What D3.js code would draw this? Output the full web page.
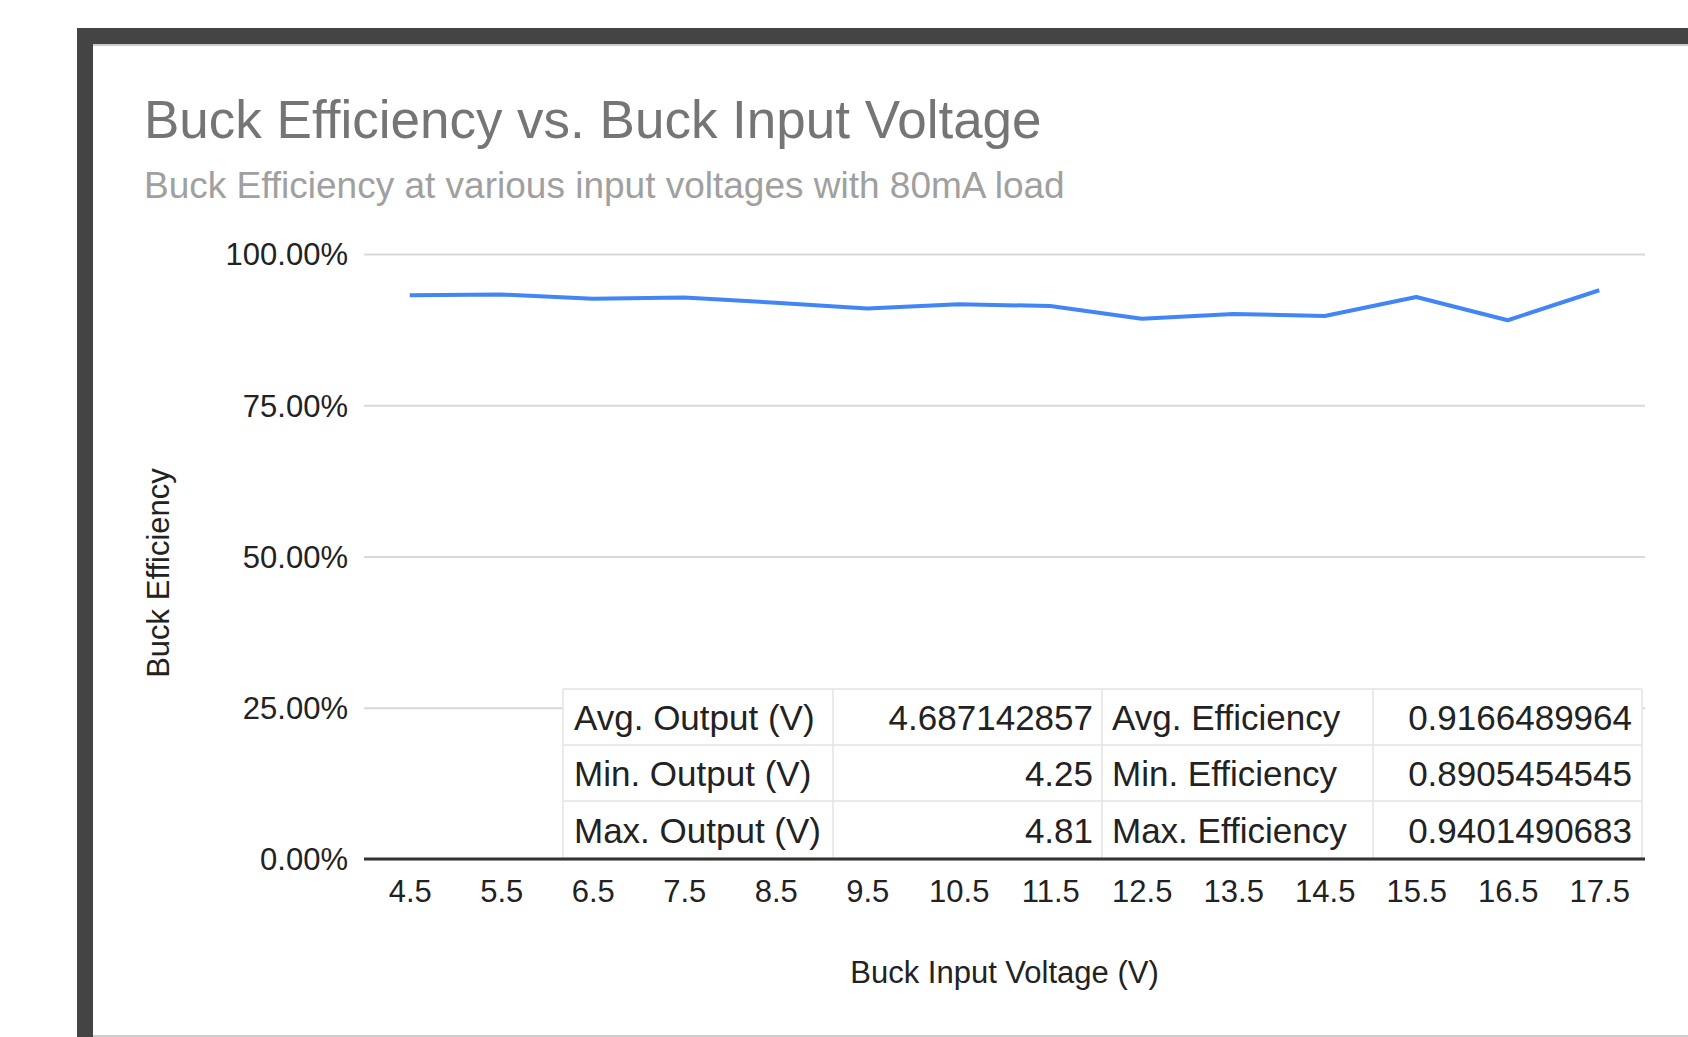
<!DOCTYPE html>
<html>
<head>
<meta charset="utf-8">
<script src="https://cdn.jsdelivr.net/npm/d3@7"></script>
<style>
  body { margin: 0; background: #fff; }
  svg { display: block; font-family: 'Liberation Sans', Arial, sans-serif; }
</style>
</head>
<body>
<div id="chart"></div>
<script>
// data
const voltages = ['4.5', '5.5', '6.5', '7.5', '8.5', '9.5', '10.5', '11.5', '12.5', '13.5', '14.5', '15.5', '16.5', '17.5'];
const efficiency = [0.932, 0.933, 0.926, 0.928, 0.9195, 0.910, 0.917, 0.914, 0.893, 0.901, 0.8975, 0.929, 0.8905, 0.9401];
const yTicks = [0, 0.25, 0.5, 0.75, 1];

// summary table
const outputLabels = ['Avg. Output (V)', 'Min. Output (V)', 'Max. Output (V)'];
const outputValues = ['4.687142857', '4.25', '4.81'];
const effLabels = ['Avg. Efficiency', 'Min. Efficiency', 'Max. Efficiency'];
const effValues = ['0.9166489964', '0.8905454545', '0.9401490683'];

const W = 1688;
const H = 1037;
const plot = { left: 364, right: 1645, top: 254, bottom: 859 };

const svg = d3.select('#chart').append('svg').attr('width', W).attr('height', H);

// dark frame around the chart panel
svg.append('rect').attr('x', 77).attr('y', 28).attr('width', W - 77).attr('height', H - 28).attr('fill', '#444');
svg.append('rect').attr('x', 93).attr('y', 44).attr('width', W - 93).attr('height', 991).attr('fill', '#fff');
svg.append('line').attr('x1', 93).attr('x2', W).attr('y1', 45).attr('y2', 45).attr('stroke', '#ccc').attr('stroke-width', 2);
svg.append('line').attr('x1', 93).attr('x2', W).attr('y1', 1036).attr('y2', 1036).attr('stroke', '#ccc').attr('stroke-width', 2);

// titles
svg.append('text').attr('x', 144).attr('y', 138).attr('font-size', 53).attr('fill', '#757575')
  .text('Buck Efficiency vs. Buck Input Voltage');
svg.append('text').attr('x', 144).attr('y', 198).attr('font-size', 37).attr('fill', '#a0a0a0')
  .text('Buck Efficiency at various input voltages with 80mA load');

const x = d3.scalePoint().domain(voltages).range([plot.left, plot.right]).padding(0.5);
const y = d3.scaleLinear().domain([0, 1]).range([plot.bottom, plot.top]);

// y axis + gridlines
const yAxis = svg.append('g')
  .attr('transform', `translate(${plot.left},0)`)
  .call(d3.axisLeft(y).tickValues(yTicks).tickFormat(d3.format('.2%'))
    .tickSize(-(plot.right - plot.left)).tickPadding(16));
yAxis.select('.domain').remove();
yAxis.selectAll('line').attr('stroke', '#d9d9d9').attr('stroke-width', 2);
yAxis.selectAll('text').attr('font-size', 31).attr('fill', '#222').attr('font-family', 'Liberation Sans, Arial, sans-serif')
  .attr('dy', '0.35em');

// summary table sitting on the plot
const colEdges = [563, 833, 1102, 1373, 1642];
const rowEdges = [689, 745, 801, 858];
const table = svg.append('g');
table.append('rect')
  .attr('x', colEdges[0]).attr('y', rowEdges[0])
  .attr('width', colEdges[4] - colEdges[0]).attr('height', rowEdges[3] - rowEdges[0])
  .attr('fill', '#fff');
rowEdges.forEach(r => {
  table.append('line').attr('x1', colEdges[0]).attr('x2', colEdges[4]).attr('y1', r).attr('y2', r)
    .attr('stroke', '#e3e3e3').attr('stroke-width', 1.5);
});
colEdges.forEach(c => {
  table.append('line').attr('x1', c).attr('x2', c).attr('y1', rowEdges[0]).attr('y2', rowEdges[3])
    .attr('stroke', '#e3e3e3').attr('stroke-width', 1.5);
});
const columns = [
  { items: outputLabels, anchor: 'start', x: colEdges[0] + 11 },
  { items: outputValues, anchor: 'end', x: colEdges[2] - 9 },
  { items: effLabels, anchor: 'start', x: colEdges[2] + 10 },
  { items: effValues, anchor: 'end', x: colEdges[4] - 10 }
];
columns.forEach(col => {
  col.items.forEach((t, i) => {
    table.append('text')
      .attr('x', col.x)
      .attr('y', (rowEdges[i] + rowEdges[i + 1]) / 2 + 13)
      .attr('text-anchor', col.anchor)
      .attr('font-size', 35)
      .attr('fill', '#222')
      .text(t);
  });
});

// baseline
svg.append('line')
  .attr('x1', plot.left).attr('x2', plot.right)
  .attr('y1', y(0)).attr('y2', y(0))
  .attr('stroke', '#333').attr('stroke-width', 3);

// efficiency line
const line = d3.line().x((d, i) => x(voltages[i])).y(d => y(d));
svg.append('path')
  .datum(efficiency)
  .attr('d', line)
  .attr('fill', 'none')
  .attr('stroke', '#4285f4')
  .attr('stroke-width', 4)
  .attr('stroke-linejoin', 'round');

// x axis labels
const xAxis = svg.append('g')
  .attr('transform', `translate(0,${plot.bottom})`)
  .call(d3.axisBottom(x).tickSize(0).tickPadding(21));
xAxis.select('.domain').remove();
xAxis.selectAll('text').attr('font-size', 31).attr('fill', '#222').attr('font-family', 'Liberation Sans, Arial, sans-serif');

// axis titles
svg.append('text')
  .attr('x', (plot.left + plot.right) / 2).attr('y', 983)
  .attr('text-anchor', 'middle').attr('font-size', 31).attr('fill', '#222')
  .text('Buck Input Voltage (V)');
svg.append('text')
  .attr('transform', 'translate(169,573) rotate(-90)')
  .attr('text-anchor', 'middle').attr('font-size', 31).attr('fill', '#222')
  .text('Buck Efficiency');
</script>
</body>
</html>
